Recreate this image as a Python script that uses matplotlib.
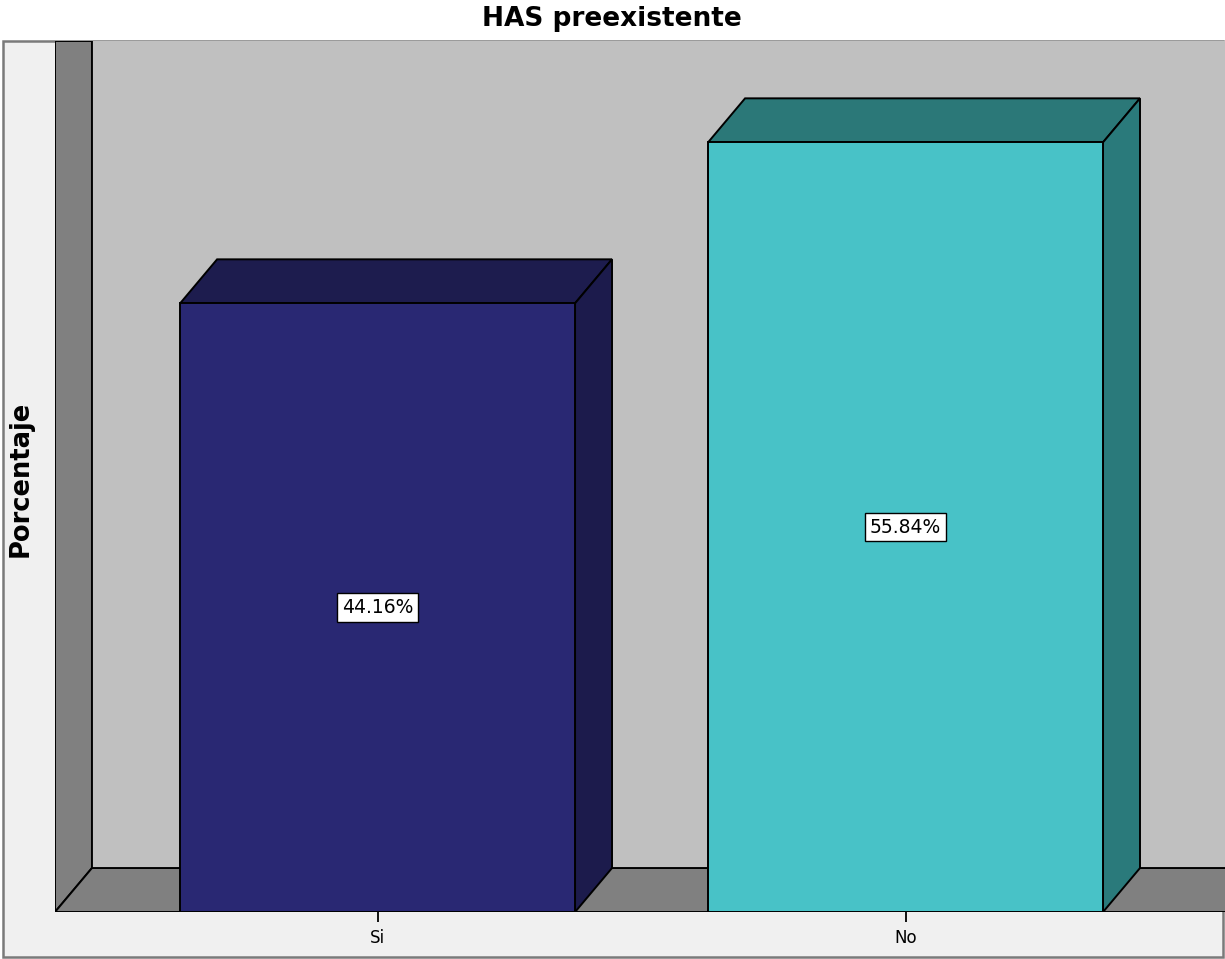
import matplotlib
matplotlib.use('Agg')
import matplotlib.pyplot as plt
from matplotlib.patches import Polygon, Rectangle

# data
categories = ['Si', 'No']
percentages = [44.16, 55.84]
labels = ['44.16%', '55.84%']

front_colors = ['#292873', '#48c2c7']
top_colors = ['#1d1c4e', '#2b7878']
side_colors = ['#1c1b4c', '#2a7a7b']

# 3d look
depth_x = 0.070
depth_y = 3.19
bar_w = 0.748
y_back_max = 60
x_left = -0.611
x_right = 1.605


def poly(ax, pts, color, z=2):
    ax.add_patch(Polygon(pts, closed=True, facecolor=color, edgecolor='black',
                         linewidth=1.4, zorder=z))


fig = plt.figure(figsize=(12.25, 9.59), dpi=100)
fig.patch.set_facecolor('white')

# outer light gray frame
fig.add_artist(Rectangle((3 / 1225, 2 / 959), 1220 / 1225, 916 / 959,
                         transform=fig.transFigure, facecolor='#f0f0f0',
                         edgecolor='#7a7a7a', linewidth=1.8, zorder=0))

ax = fig.add_axes([55 / 1225, 47 / 959, 1170 / 1225, 871 / 959])
ax.set_facecolor('#c0c0c0')
ax.set_xlim(x_left, x_right)
ax.set_ylim(0, y_back_max + depth_y)
for s in ax.spines.values():
    s.set_visible(False)

# left wall and floor
poly(ax, [(x_left, 0), (x_left + depth_x, depth_y), (x_left + depth_x, y_back_max + depth_y),
          (x_left, y_back_max + depth_y)], '#808080', z=1)
poly(ax, [(x_left, 0), (x_left + depth_x, depth_y), (x_right + 0.01, depth_y),
          (x_right + 0.01, 0)], '#808080', z=1)

for i, v in enumerate(percentages):
    xl = i - bar_w / 2
    xr = i + bar_w / 2
    poly(ax, [(xl, v), (xl + depth_x, v + depth_y), (xr + depth_x, v + depth_y), (xr, v)],
         top_colors[i], z=2)
    poly(ax, [(xr, 0), (xr + depth_x, depth_y), (xr + depth_x, v + depth_y), (xr, v)],
         side_colors[i], z=2)
    poly(ax, [(xl, 0), (xl, v), (xr, v), (xr, 0)], front_colors[i], z=3)
    ax.text(i, v / 2, labels[i], ha='center', va='center', fontsize=13.5, zorder=5,
            bbox=dict(boxstyle='square,pad=0.25', facecolor='white', edgecolor='black',
                      linewidth=1))

ax.set_xticks(range(len(categories)))
ax.set_xticklabels(categories, fontsize=12)
ax.tick_params(axis='x', length=7, width=1.3, pad=5, color='black')
ax.set_yticks([])

fig.text(612 / 1225, (959 - 26) / 959, 'HAS preexistente', ha='center', va='baseline',
         fontsize=19, fontweight='bold')
fig.text(21 / 1225, (959 - 479) / 959, 'Porcentaje', ha='center', va='center',
         rotation=90, fontsize=18.5, fontweight='bold')

fig.savefig('out.png', dpi=100)
